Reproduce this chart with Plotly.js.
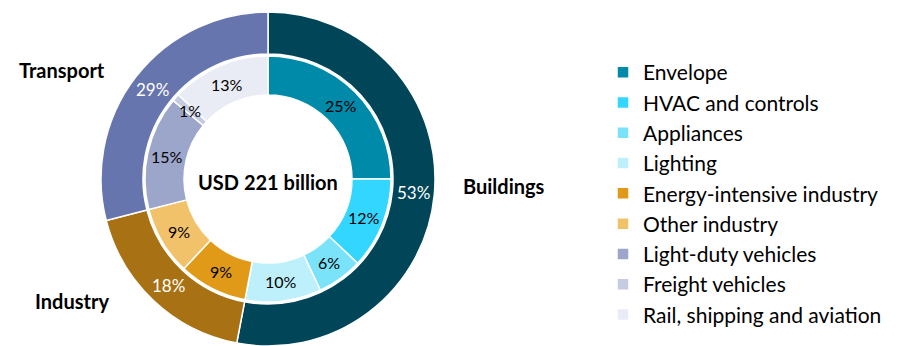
<!DOCTYPE html>
<html>
<head>
<meta charset="utf-8">
<script src="https://cdn.plot.ly/plotly-3.0.1.min.js"></script>
<style>html,body{margin:0;padding:0;background:#fff;}#chart{width:898px;height:346px;}</style>
</head>
<body>
<div id="chart"></div>
<script>
// ---- Data ----
const sectorLabels = ['Buildings', 'Industry', 'Transport'];
const sectorValues = [53, 18, 29];
const sectorColors = ['#004658', '#A87214', '#6675AD'];

const endUseLabels = ['Envelope', 'HVAC and controls', 'Appliances', 'Lighting',
  'Energy-intensive industry', 'Other industry', 'Light-duty vehicles',
  'Freight vehicles', 'Rail, shipping and aviation'];
const endUseValues = [25, 12, 6, 10, 9, 9, 15, 1, 13];
const endUseColors = ['#008AAA', '#33D6FF', '#7AE3FA', '#BEF0FB', '#E09A18',
  '#F2C26B', '#9BA6CA', '#C5CBE0', '#E9ECF4'];

const centerText = 'USD 221 billion';

// ---- Geometry (layout only) ----
const W = 898, H = 346;
const CX = 268, CY = 179;
const R_OUT = 167, R_OUT_HOLE = 125;
const R_IN = 123, R_IN_HOLE = 84;

function dom(r) {
  return {
    x: [(CX - r) / W, (CX + r) / W],
    y: [(H - CY - r) / H, (H - CY + r) / H]
  };
}

function sliceLabels(values, rOuter, rHole, color, size) {
  const total = values.reduce((a, b) => a + b, 0);
  const r = (rOuter + rHole) / 2;
  let cum = 0;
  return values.map(v => {
    const f = (cum + v / 2) / total;
    cum += v;
    const th = f * 2 * Math.PI;
    const px = CX + r * Math.sin(th);
    const py = CY - r * Math.cos(th);
    return {
      xref: 'paper', yref: 'paper', x: px / W, y: 1 - py / H,
      xanchor: 'center', yanchor: 'middle', showarrow: false,
      text: Math.round(v / total * 100) + '%',
      font: {family: 'Lato, sans-serif', size: size, color: color}
    };
  });
}

const outer = {
  type: 'pie', labels: sectorLabels, values: sectorValues,
  marker: {colors: sectorColors, line: {color: '#ffffff', width: 1.5}},
  hole: R_OUT_HOLE / R_OUT, sort: false, direction: 'clockwise', rotation: 0,
  textinfo: 'none', showlegend: false, domain: dom(R_OUT), hoverinfo: 'label+percent'
};
const inner = {
  type: 'pie', labels: endUseLabels, values: endUseValues,
  marker: {colors: endUseColors, line: {color: '#ffffff', width: 1.5}},
  hole: R_IN_HOLE / R_IN, sort: false, direction: 'clockwise', rotation: 0,
  textinfo: 'none', showlegend: true, domain: dom(R_IN), hoverinfo: 'label+percent'
};

const annotations = []
  .concat(sliceLabels(sectorValues, R_OUT, R_OUT_HOLE, '#ffffff', 17))
  .concat(sliceLabels(endUseValues, R_IN, R_IN_HOLE, '#000000', 16));

const bold = {family: 'Lato, sans-serif', size: 20, color: '#000000', weight: 'bold'};
annotations.push({xref: 'paper', yref: 'paper', x: CX / W, y: 1 - 182 / H,
  xanchor: 'center', yanchor: 'middle', showarrow: false,
  text: '<b>' + centerText + '</b>', font: bold});
annotations.push({xref: 'paper', yref: 'paper', x: 461 / W, y: 1 - 186 / H,
  xanchor: 'left', yanchor: 'middle', showarrow: false,
  text: '<b>' + sectorLabels[0] + '</b>', font: bold});
annotations.push({xref: 'paper', yref: 'paper', x: 111 / W, y: 1 - 301 / H,
  xanchor: 'right', yanchor: 'middle', showarrow: false,
  text: '<b>' + sectorLabels[1] + '</b>', font: bold});
annotations.push({xref: 'paper', yref: 'paper', x: 107 / W, y: 1 - 70 / H,
  xanchor: 'right', yanchor: 'middle', showarrow: false,
  text: '<b>' + sectorLabels[2] + '</b>', font: bold});

const layout = {
  width: W, height: H,
  margin: {l: 0, r: 0, t: 0, b: 0},
  paper_bgcolor: '#ffffff',
  showlegend: true,
  legend: {
    x: 603 / W, xanchor: 'left', y: 1 - 52 / H, yanchor: 'top',
    font: {family: 'Lato, sans-serif', size: 21, color: '#000000'},
    traceorder: 'normal', bgcolor: 'rgba(0,0,0,0)'
  },
  annotations: annotations
};

Plotly.newPlot('chart', [outer, inner], layout, {displayModeBar: false, staticPlot: true});
</script>
</body>
</html>
